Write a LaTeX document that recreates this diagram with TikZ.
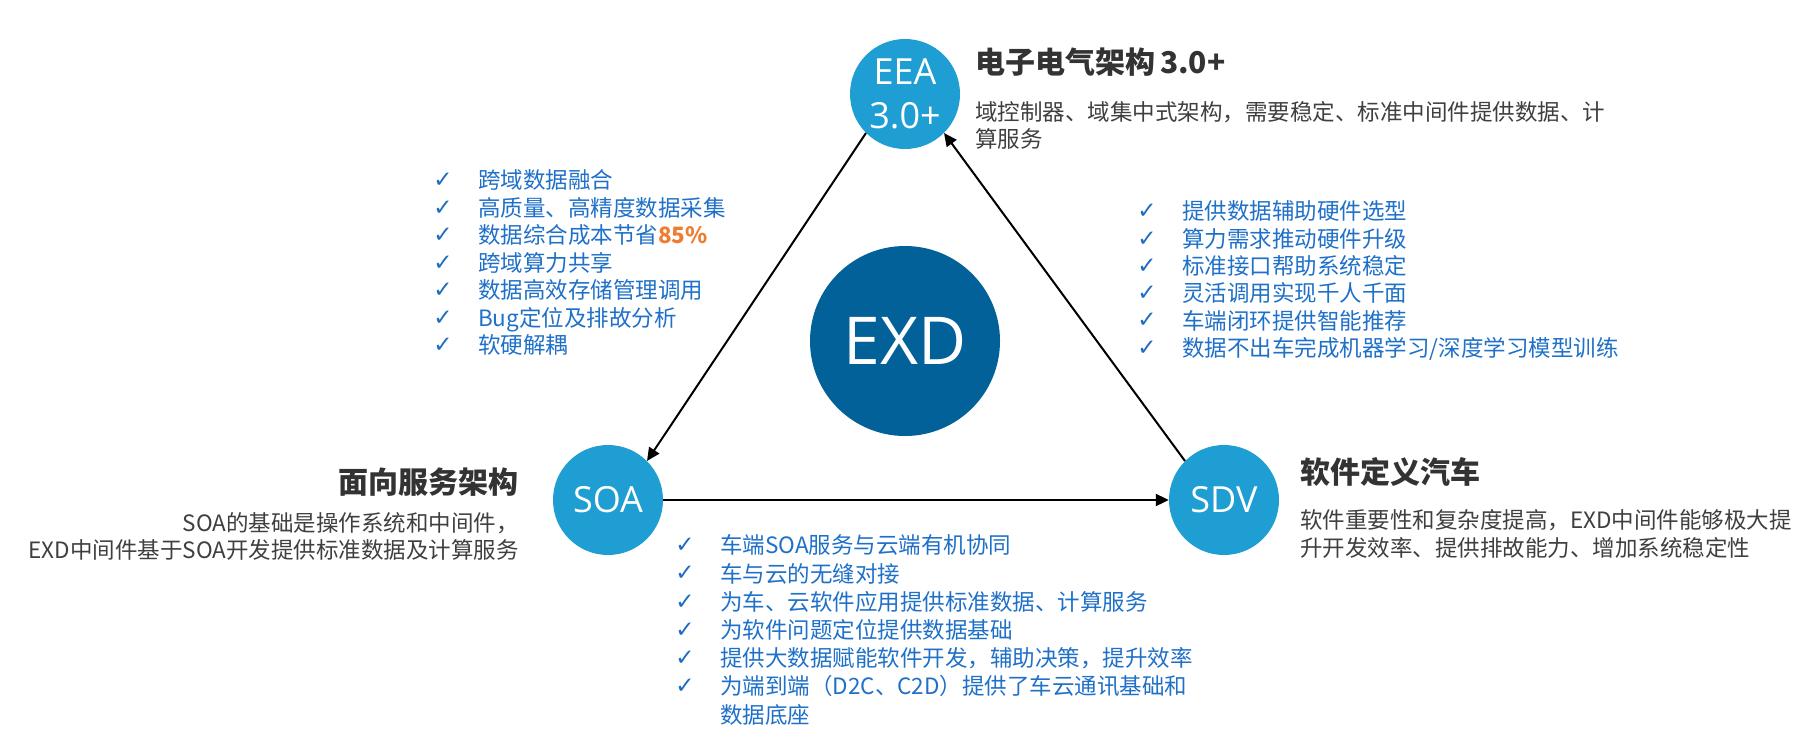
\documentclass[tikz,border=0pt]{standalone}
\usepackage{fontspec}
\setmainfont{Noto Sans CJK SC}
\newfontfamily\symfont{DejaVu Sans}
\newfontfamily\circfont{Open Sans}
\usetikzlibrary{arrows.meta}
\definecolor{lblue}{HTML}{1E9ED3}
\definecolor{dblue}{HTML}{03619A}
\definecolor{listblue}{HTML}{1F70C8}
\definecolor{chk}{HTML}{1F6BBF}
\definecolor{ttl}{HTML}{333333}
\definecolor{dsc}{HTML}{3F3F3F}
\definecolor{org}{HTML}{ED7D31}
\begin{document}
\begin{tikzpicture}[x=1pt,y=-1pt,
  circ/.style={circle,fill=lblue,minimum size=110pt,inner sep=0pt},
  circtext/.style={text=white,align=center,inner sep=0pt,font=\circfont\fontsize{36}{44}\selectfont},
  item/.style={anchor=base west,inner sep=0pt,text=listblue,font=\fontsize{22.5}{27}\selectfont},
  chkmark/.style={inner sep=0pt,text=chk,font=\symfont\fontsize{23}{23}\selectfont},
  ttlstyle/.style={inner sep=0pt,text=ttl,font=\bfseries\fontsize{30}{36}\selectfont},
  dscstyle/.style={inner sep=0pt,text=dsc,font=\fontsize{22.5}{27}\selectfont},
  arr/.style={draw=black,line width=2pt,-{Triangle[length=13pt,width=12pt]}}
]
\useasboundingbox (0,0) rectangle (1820,744);

% circles
\node[circ] (eea) at (905,94) {};
\node[circtext] (eeat) at (eea) {EEA\\3.0+};
\node[circ] (soa) at (608,500) {};
\node[circtext] (soat) at (soa) {SOA};
\node[circ] (sdv) at (1224,500) {};
\node[circtext] (sdvt) at (sdv) {SDV};
\node[circle,fill=dblue,minimum size=190pt,inner sep=0pt] (exd) at (905,341) {};
\node[text=white,inner sep=0pt,font=\circfont\fontsize{66}{70}\selectfont] (exdt) at (exd) {EXD};

% connectors
\draw[arr] (eea.225) -- (soa.45);
\draw[arr] (soa.east) -- (sdv.west);
\draw[arr] (sdv.135) -- (eea.-45);

% titles
\node[ttlstyle,anchor=base west] (eeattl) at (975,73) {电子电气架构\,3.0+};
\node[ttlstyle,anchor=base east] (soattl) at (519,493) {面向服务架构};
\node[ttlstyle,anchor=base west] (sdvttl) at (1300,483) {软件定义汽车};

% descriptions
\node[dscstyle,anchor=base west] (eead1) at (975,120.3) {域控制器、域集中式架构，需要稳定、标准中间件提供数据、计};
\node[dscstyle,anchor=base west] (eead2) at (975,147.5) {算服务};
\node[dscstyle,anchor=base east] (soad1) at (519,531.3) {SOA的基础是操作系统和中间件，};
\node[dscstyle,anchor=base east] (soad2) at (519,558.5) {EXD中间件基于SOA开发提供标准数据及计算服务};
\node[dscstyle,anchor=base west] (sdvd1) at (1300,528.3) {软件重要性和复杂度提高，EXD中间件能够极大提};
\node[dscstyle,anchor=base west] (sdvd2) at (1300,556.3) {升开发效率、提供排故能力、增加系统稳定性};

% left list
\node[chkmark] (lc1) at (443,180.5) {✓};
\node[chkmark] (lc2) at (443,208) {✓};
\node[chkmark] (lc3) at (443,235.5) {✓};
\node[chkmark] (lc4) at (443,263) {✓};
\node[chkmark] (lc5) at (443,290.5) {✓};
\node[chkmark] (lc6) at (443,318) {✓};
\node[chkmark] (lc7) at (443,345.5) {✓};
\node[item] (l1) at (478,188.8) {跨域数据融合};
\node[item] (l2) at (478,216.3) {高质量、高精度数据采集};
\node[item] (l3) at (478,243.8) {数据综合成本节省{\bfseries\color{org}85\%}};
\node[item] (l4) at (478,271.3) {跨域算力共享};
\node[item] (l5) at (478,298.8) {数据高效存储管理调用};
\node[item] (l6) at (478,326.3) {Bug定位及排故分析};
\node[item] (l7) at (478,353.8) {软硬解耦};

% right list
\node[chkmark] (rc1) at (1147,211.5) {✓};
\node[chkmark] (rc2) at (1147,238.8) {✓};
\node[chkmark] (rc3) at (1147,266.1) {✓};
\node[chkmark] (rc4) at (1147,293.4) {✓};
\node[chkmark] (rc5) at (1147,320.7) {✓};
\node[chkmark] (rc6) at (1147,348) {✓};
\node[item] (r1) at (1182,219.8) {提供数据辅助硬件选型};
\node[item] (r2) at (1182,247.1) {算力需求推动硬件升级};
\node[item] (r3) at (1182,274.4) {标准接口帮助系统稳定};
\node[item] (r4) at (1182,301.7) {灵活调用实现千人千面};
\node[item] (r5) at (1182,329) {车端闭环提供智能推荐};
\node[item] (r6) at (1182,356.3) {数据不出车完成机器学习/深度学习模型训练};

% bottom list
\node[chkmark] (bc1) at (685,545.5) {✓};
\node[chkmark] (bc2) at (685,573.7) {✓};
\node[chkmark] (bc3) at (685,601.9) {✓};
\node[chkmark] (bc4) at (685,630.1) {✓};
\node[chkmark] (bc5) at (685,658.3) {✓};
\node[chkmark] (bc6) at (685,686.5) {✓};
\node[item] (b1) at (720,553.8) {车端SOA服务与云端有机协同};
\node[item] (b2) at (720,582) {车与云的无缝对接};
\node[item] (b3) at (720,610.2) {为车、云软件应用提供标准数据、计算服务};
\node[item] (b4) at (720,638.4) {为软件问题定位提供数据基础};
\node[item] (b5) at (720,666.6) {提供大数据赋能软件开发，辅助决策，提升效率};
\node[item] (b6) at (720,694.8) {为端到端（D2C、C2D）提供了车云通讯基础和};
\node[item] (b7) at (720,723) {数据底座};
\end{tikzpicture}
\end{document}
